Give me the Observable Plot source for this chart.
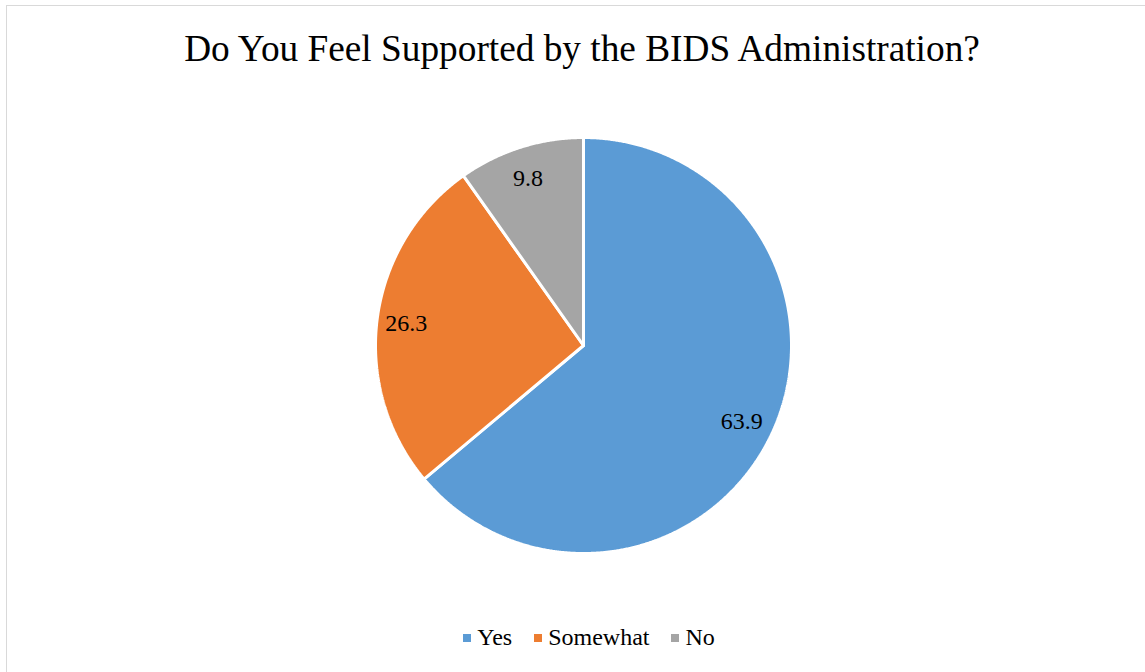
<!DOCTYPE html>
<html>
<head>
<meta charset="utf-8">
<script src="https://cdn.jsdelivr.net/npm/d3@7"></script>
<script src="https://cdn.jsdelivr.net/npm/@observablehq/plot@0.6"></script>
<style>
  html, body { margin: 0; padding: 0; background: #fff; width: 1145px; height: 672px; overflow: hidden; }
  #frame { position: absolute; left: 6px; top: 5px; width: 1150px; height: 680px; border: 1px solid #d9d9d9; box-sizing: border-box; }
  #title { position: absolute; left: 0; width: 1164px; top: 27px; text-align: center; font-family: "Liberation Serif", "Times New Roman", serif; font-size: 37.3px; color: #000; white-space: nowrap; }
  #chart { position: absolute; left: 0; top: 95px; }
  #chart text { font-family: "Liberation Serif", "Times New Roman", serif !important; }
  #legend { position: absolute; left: 0; width: 1178px; top: 621px; display: flex; justify-content: center; }
  #legend, #legend * { font-family: "Liberation Serif", "Times New Roman", serif !important; font-size: 24px !important; color: #000 !important; }
  #legend .lg-swatch { margin-right: 22px !important; }
  #legend .lg-swatch:last-child { margin-right: 0 !important; }
  #legend .lg-swatch > svg { margin-right: 6px !important; }
</style>
</head>
<body>
<div id="frame"></div>
<div id="title">Do You Feel Supported by the BIDS Administration?</div>
<div id="chart"></div>
<div id="legend"></div>
<script>
const categories = ["Yes", "Somewhat", "No"];
const values = [63.9, 26.3, 9.8];
const labels = ["63.9", "26.3", "9.8"];
const colors = ["#5B9BD5", "#ED7D31", "#A5A5A5"];

// Pie layout: start at 12 o'clock, clockwise
const pieData = d3.pie().sort(null).value(d => d.value)(categories.map((c, i) => ({category: c, value: values[i], label: labels[i]})));
const polys = [];
const labelPts = [];
for (const p of pieData) {
  const a0 = p.startAngle, a1 = p.endAngle;
  const n = Math.max(2, Math.ceil((a1 - a0) / 0.005));
  polys.push({category: p.data.category, x: 0, y: 0});
  for (let k = 0; k <= n; k++) {
    const a = a0 + (a1 - a0) * k / n;
    polys.push({category: p.data.category, x: Math.sin(a), y: Math.cos(a)});
  }
  polys.push({category: p.data.category, x: 0, y: 0});
  const m = (a0 + a1) / 2, rr = 0.85;
  labelPts.push({label: p.data.label, x: rr * Math.sin(m), y: rr * Math.cos(m)});
}

const W = 1145, H = 500;
const cx = 583, R = 208, cyAbs = 345, topOff = 95;
const cy = cyAbs - topOff;

const chart = Plot.plot({
  width: W,
  height: H,
  marginLeft: cx - R,
  marginRight: W - (cx + R),
  marginTop: cy - R,
  marginBottom: H - (cy + R),
  x: {domain: [-1, 1], axis: null},
  y: {domain: [-1, 1], axis: null},
  color: {domain: categories, range: colors},
  style: {background: "transparent"},
  marks: [
    Plot.line(polys, {x: "x", y: "y", z: "category", fill: "category", stroke: "white", strokeWidth: 3, strokeLinejoin: "miter", curve: "linear"}),
    Plot.text(labelPts, {x: "x", y: "y", text: "label", fontSize: 24, dx: -2, dy: 1, fontFamily: "Liberation Serif", fill: "#000"})
  ]
});
document.getElementById("chart").appendChild(chart);

const legend = Plot.legend({
  color: {domain: categories, range: colors},
  swatchSize: 8,
  className: "lg"
});
document.getElementById("legend").appendChild(legend);
</script>
</body>
</html>
